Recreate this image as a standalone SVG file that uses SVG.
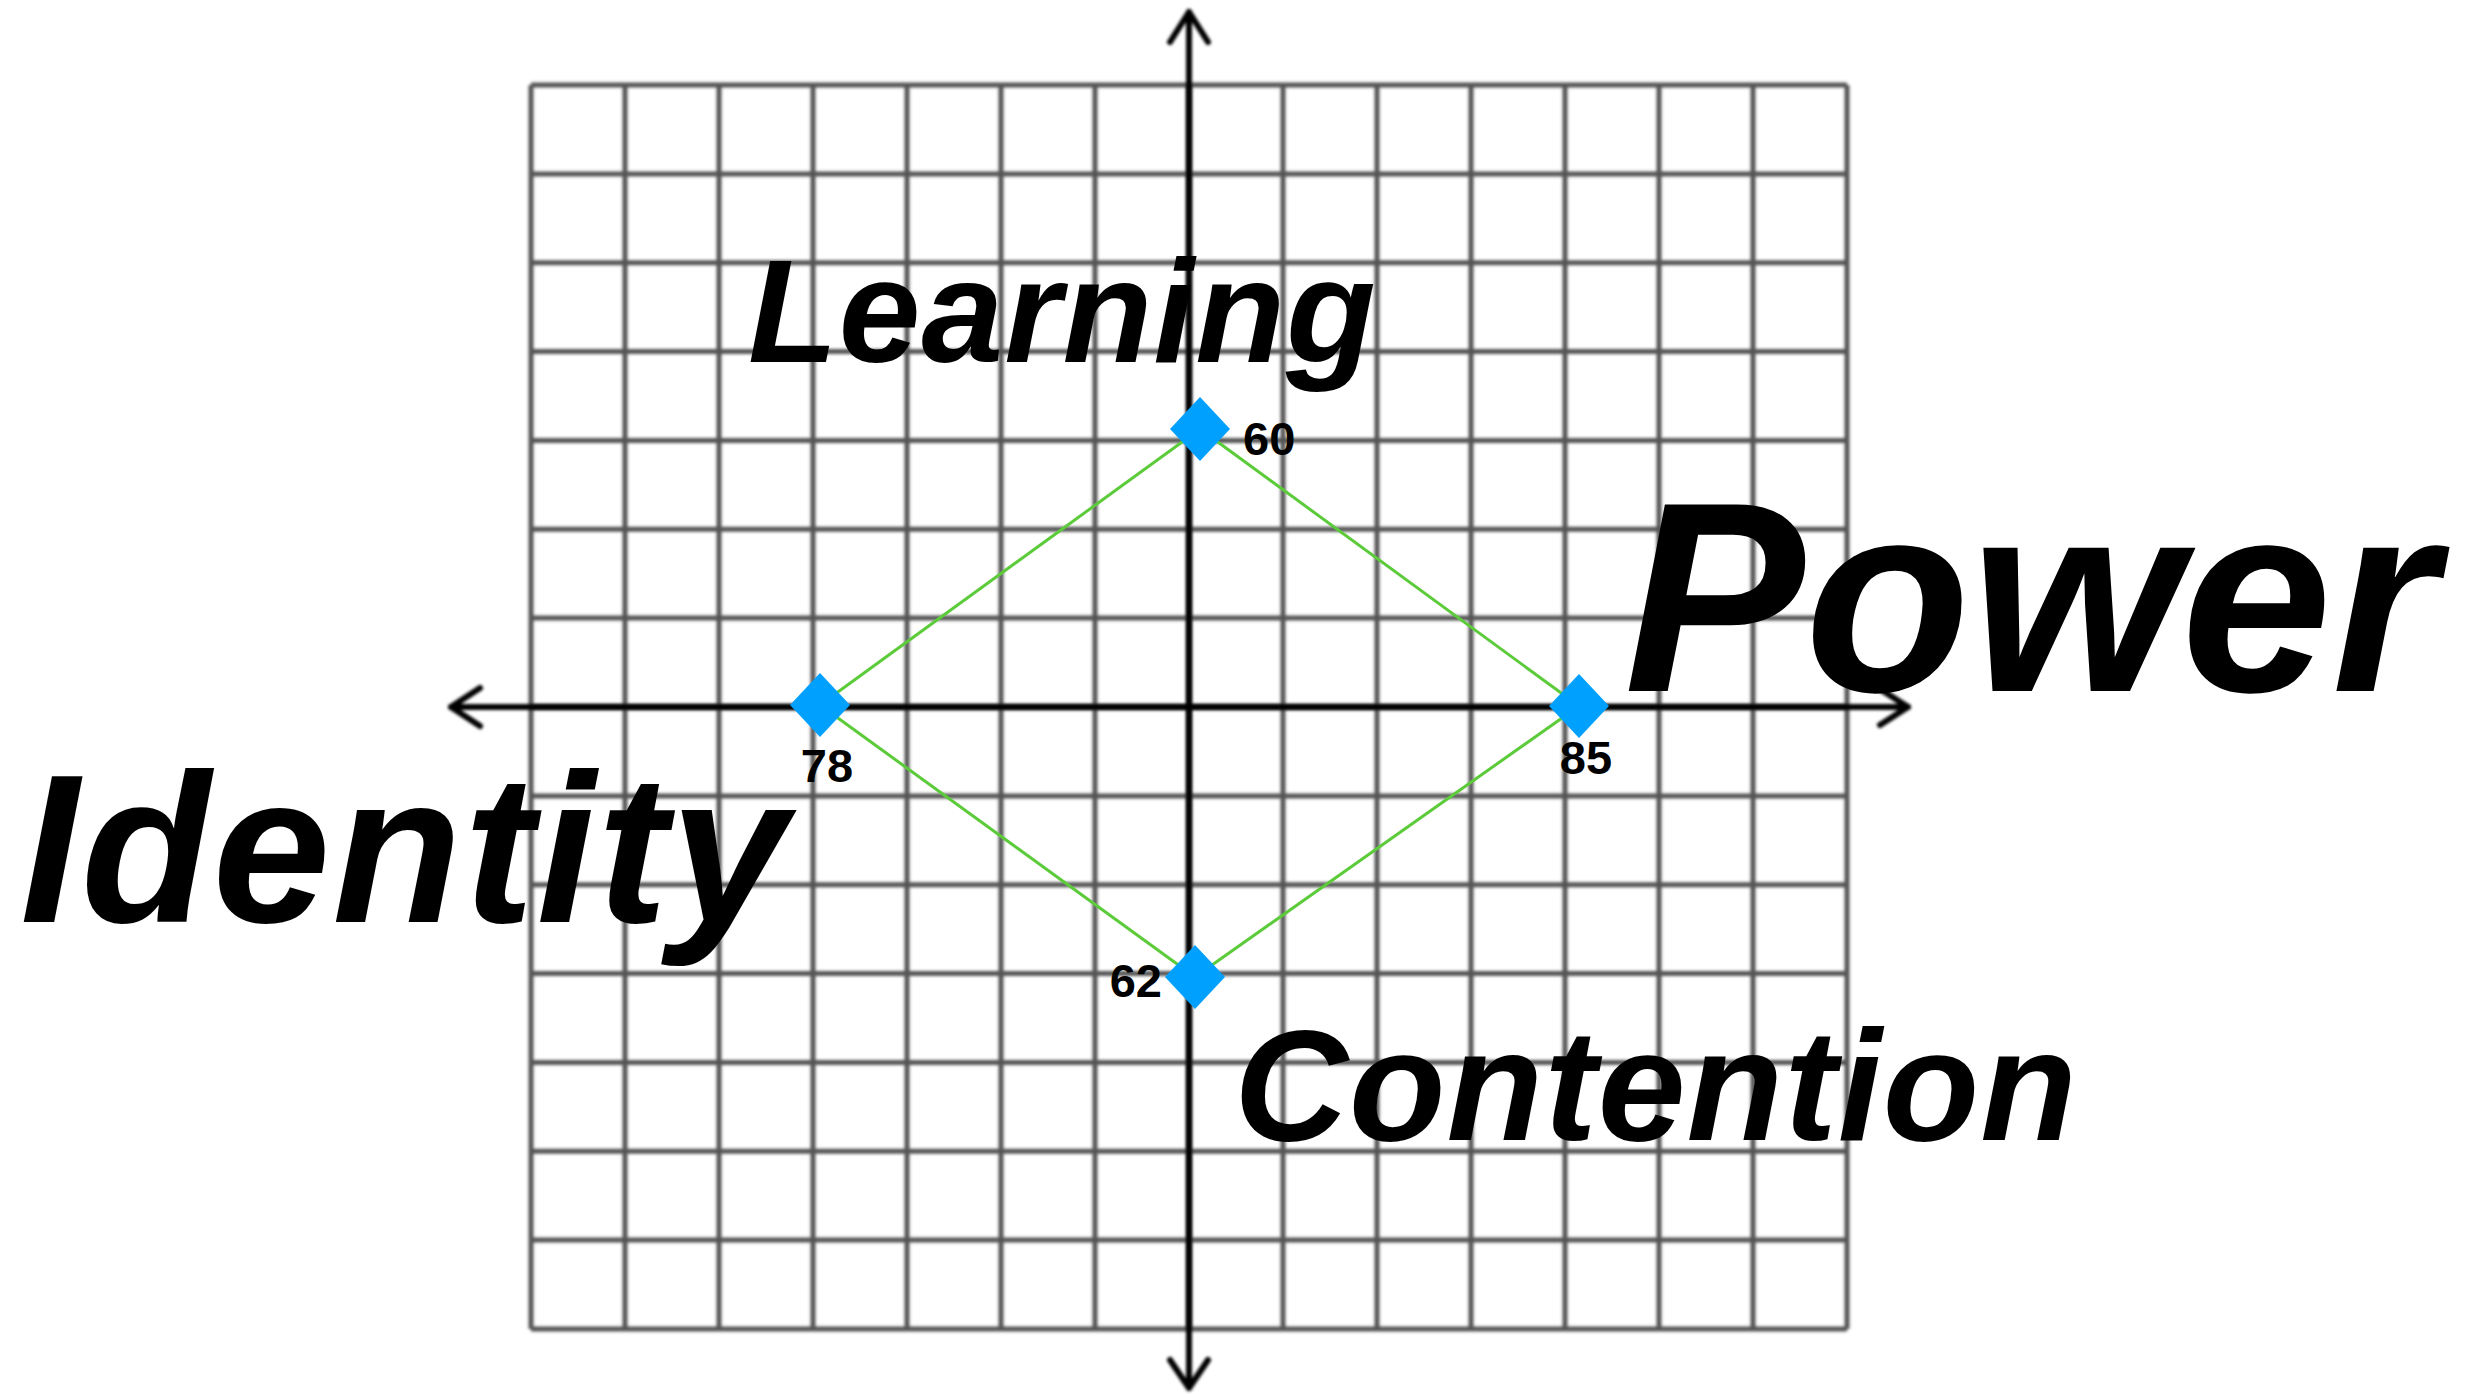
<svg xmlns="http://www.w3.org/2000/svg" xmlns:xlink="http://www.w3.org/1999/xlink" width="2476" height="1394" viewBox="0 0 2476 1394">
  <defs>
    <filter id="soft" x="-5%" y="-5%" width="110%" height="110%">
      <feGaussianBlur stdDeviation="1.6"/>
    </filter>
    <path id="diamond" d="M0,-32 L30,0 L0,32 L-30,0 Z"/>
    <style>
      .grid line { stroke: #555; stroke-width: 5; }
      .axis { stroke: #000; stroke-width: 6; fill: none; stroke-linecap: round; stroke-linejoin: round; }
      .link { stroke: #5ccb3a; stroke-width: 3; fill: none; }
      .pt { fill: #00a0ff; }
      .num { font-family: "Liberation Sans", Arial, sans-serif; font-weight: bold; font-size: 47px; fill: #000; }
      .big { font-family: "Liberation Sans", Arial, sans-serif; font-weight: bold; font-style: italic; fill: #000; }
    </style>
  </defs>
  <rect width="2476" height="1394" fill="#fff"/>

  <g id="grid" class="grid" filter="url(#soft)">
    <line x1="531" y1="85" x2="531" y2="1329"/>
    <line x1="625" y1="85" x2="625" y2="1329"/>
    <line x1="719" y1="85" x2="719" y2="1329"/>
    <line x1="813" y1="85" x2="813" y2="1329"/>
    <line x1="907" y1="85" x2="907" y2="1329"/>
    <line x1="1001" y1="85" x2="1001" y2="1329"/>
    <line x1="1095" y1="85" x2="1095" y2="1329"/>
    <line x1="1189" y1="85" x2="1189" y2="1329"/>
    <line x1="1283" y1="85" x2="1283" y2="1329"/>
    <line x1="1377" y1="85" x2="1377" y2="1329"/>
    <line x1="1471" y1="85" x2="1471" y2="1329"/>
    <line x1="1565" y1="85" x2="1565" y2="1329"/>
    <line x1="1659" y1="85" x2="1659" y2="1329"/>
    <line x1="1753" y1="85" x2="1753" y2="1329"/>
    <line x1="1847" y1="85" x2="1847" y2="1329"/>
    <line x1="531" y1="85" x2="1847" y2="85"/>
    <line x1="531" y1="173.9" x2="1847" y2="173.9"/>
    <line x1="531" y1="262.7" x2="1847" y2="262.7"/>
    <line x1="531" y1="351.6" x2="1847" y2="351.6"/>
    <line x1="531" y1="440.4" x2="1847" y2="440.4"/>
    <line x1="531" y1="529.3" x2="1847" y2="529.3"/>
    <line x1="531" y1="618.1" x2="1847" y2="618.1"/>
    <line x1="531" y1="707" x2="1847" y2="707"/>
    <line x1="531" y1="795.9" x2="1847" y2="795.9"/>
    <line x1="531" y1="884.7" x2="1847" y2="884.7"/>
    <line x1="531" y1="973.6" x2="1847" y2="973.6"/>
    <line x1="531" y1="1062.4" x2="1847" y2="1062.4"/>
    <line x1="531" y1="1151.3" x2="1847" y2="1151.3"/>
    <line x1="531" y1="1240.1" x2="1847" y2="1240.1"/>
    <line x1="531" y1="1329" x2="1847" y2="1329"/>
  </g>

  <g id="axes" filter="url(#soft)">
    <line class="axis" x1="1189" y1="12" x2="1189" y2="1388"/>
    <line class="axis" x1="451" y1="707" x2="1908" y2="707"/>
    <path class="axis" d="M1170,42 L1189,12 L1208,42"/>
    <path class="axis" d="M1170,1360 L1189,1388 L1208,1360"/>
    <path class="axis" d="M480,688 L451,707 L480,726"/>
    <path class="axis" d="M1880,689 L1908,707 L1880,725"/>
  </g>

  <g id="connectors">
    <line class="link" x1="1200" y1="429" x2="820" y2="705"/>
    <line class="link" x1="1200" y1="429" x2="1579" y2="706"/>
    <line class="link" x1="1195" y1="977" x2="820" y2="705"/>
    <line class="link" x1="1195" y1="977" x2="1579" y2="706"/>
  </g>

  <g id="node-learning-60">
    <use xlink:href="#diamond" class="pt" x="1200" y="429"/>
    <text class="num" x="1243" y="455">60</text>
  </g>
  <g id="node-identity-78">
    <use xlink:href="#diamond" class="pt" x="820" y="705"/>
    <text class="num" x="827" y="782" text-anchor="middle">78</text>
  </g>
  <g id="node-power-85">
    <use xlink:href="#diamond" class="pt" x="1579" y="706"/>
    <text class="num" x="1586" y="774" text-anchor="middle">85</text>
  </g>
  <g id="node-contention-62">
    <use xlink:href="#diamond" class="pt" x="1195" y="977"/>
    <text class="num" x="1162" y="997" text-anchor="end">62</text>
  </g>

  <g id="labels">
    <text class="big" x="748" y="362" font-size="147" letter-spacing="1">Learning</text>
    <text class="big" x="1624" y="691" font-size="271">Power</text>
    <text class="big" x="20" y="922" font-size="212" letter-spacing="2">Identity</text>
    <text class="big" x="1234" y="1140" font-size="158" letter-spacing="1">Contention</text>
  </g>
</svg>
